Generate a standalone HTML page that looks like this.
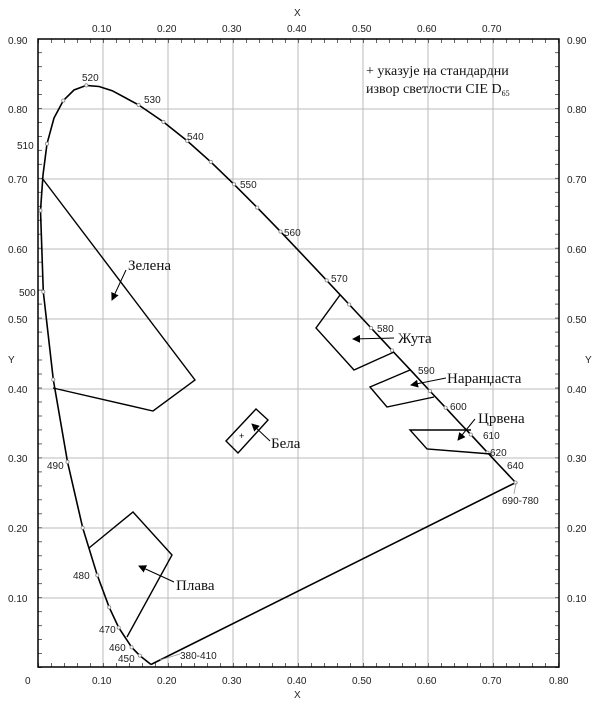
<!DOCTYPE html>
<html><head><meta charset="utf-8"><style>
html,body{margin:0;padding:0;background:#fff;}
svg{display:block;}
.n{font-family:"Liberation Sans",sans-serif;font-size:10px;fill:#222;}
.s{font-family:"Liberation Serif",serif;font-size:15px;fill:#111;}
</style></head><body>
<svg width="600" height="702" viewBox="0 0 600 702" xmlns="http://www.w3.org/2000/svg">
<defs><marker id="a" markerWidth="8" markerHeight="8" refX="7" refY="4" orient="auto" markerUnits="userSpaceOnUse"><path d="M0,0 L8,4 L0,8 z" fill="#000"/></marker></defs>
<g stroke="#bbb" stroke-width="1">
<line x1="103" y1="39" x2="103" y2="667"/><line x1="168" y1="39" x2="168" y2="667"/><line x1="233" y1="39" x2="233" y2="667"/><line x1="298" y1="39" x2="298" y2="667"/><line x1="363" y1="39" x2="363" y2="667"/><line x1="428" y1="39" x2="428" y2="667"/><line x1="493" y1="39" x2="493" y2="667"/>
<line x1="38" y1="598" x2="559" y2="598"/><line x1="38" y1="528" x2="559" y2="528"/><line x1="38" y1="458" x2="559" y2="458"/><line x1="38" y1="389" x2="559" y2="389"/><line x1="38" y1="319" x2="559" y2="319"/><line x1="38" y1="249" x2="559" y2="249"/><line x1="38" y1="179" x2="559" y2="179"/><line x1="38" y1="109" x2="559" y2="109"/>
</g>
<g stroke="#666" stroke-width="4" fill="none">
<line x1="38" y1="41" x2="559" y2="41" stroke-dasharray="1 12"/>
<line x1="38" y1="665" x2="559" y2="665" stroke-dasharray="1 12"/>
<line x1="40" y1="668" x2="40" y2="39" stroke-dasharray="1 12.975"/>
<line x1="557" y1="668" x2="557" y2="39" stroke-dasharray="1 12.975"/>
</g>
<rect x="38" y="39" width="521" height="628" fill="none" stroke="#000" stroke-width="1.5"/>
<path fill="none" stroke="#000" stroke-width="1.6" d="M151,664.5 L139.8,655.6 L131.6,647.2 L118.7,627.6 L109.2,607.3 L97.3,575.3 L82.7,527.8 L67.5,461.9 L53.3,379.6 L43.3,291.8 L40.5,210.5 L43,175 L47,143.8 L54,118 L63.3,100.6 L74,90 L86.3,85.4 L99,86.5 L112.2,90.7 L138.6,104.9 L163.4,121.9 L187.2,140.9 L210.8,161.9 L234,184.3 L257.2,207.6 L280.5,231.6 L303.7,256 L326.7,280.4 L349.2,304.5 L371.1,328 L392.1,350.5 L411.9,371.6 L429.9,391 L445.6,407.7 L459.3,422.5 L470.8,434.6 L487.5,452.6 L498.1,464 L505.4,471.7 L509.9,476.5 L515.6,482.6 L151,664.5"/>
<g fill="#fff" stroke="#888" stroke-width="0.8">
<circle cx="139.8" cy="655.6" r="1.6"/><circle cx="131.6" cy="647.2" r="1.6"/><circle cx="118.7" cy="627.6" r="1.6"/><circle cx="109.2" cy="607.3" r="1.6"/><circle cx="97.3" cy="575.3" r="1.6"/><circle cx="82.7" cy="527.8" r="1.6"/><circle cx="67.5" cy="461.9" r="1.6"/><circle cx="53.3" cy="379.6" r="1.6"/><circle cx="43.3" cy="291.8" r="1.6"/><circle cx="40.5" cy="210.5" r="1.6"/><circle cx="47" cy="143.8" r="1.6"/><circle cx="63.3" cy="100.6" r="1.6"/><circle cx="86.3" cy="85.4" r="1.6"/><circle cx="138.6" cy="104.9" r="1.6"/><circle cx="163.4" cy="121.9" r="1.6"/><circle cx="187.2" cy="140.9" r="1.6"/><circle cx="210.8" cy="161.9" r="1.6"/><circle cx="234" cy="184.3" r="1.6"/><circle cx="257.2" cy="207.6" r="1.6"/><circle cx="280.5" cy="231.6" r="1.6"/><circle cx="326.7" cy="280.4" r="1.6"/><circle cx="349.2" cy="304.5" r="1.6"/><circle cx="371.1" cy="328" r="1.6"/><circle cx="392.1" cy="350.5" r="1.6"/><circle cx="429.9" cy="391" r="1.6"/><circle cx="445.6" cy="407.7" r="1.6"/><circle cx="470.8" cy="434.6" r="1.6"/><circle cx="487.5" cy="452.6" r="1.6"/><circle cx="515.6" cy="482.6" r="1.6"/>
</g>
<g fill="none" stroke="#000" stroke-width="1.4">
<polyline points="42,178 195,380 153,411 53,388"/>
<polyline points="89,548 133,512 172,555 127,637"/>
<polyline points="394,352 354,370 316,328 340,295"/>
<polyline points="434,397 387,407 370,387 410,370"/>
<polyline points="471,430 410,430 427,449 491,454"/>
<polygon points="226,441 256,409 268,420 238,453"/>
</g>
<g stroke="#000" stroke-width="1" marker-end="url(#a)">
<line x1="126" y1="270" x2="112" y2="300"/>
<line x1="174" y1="582" x2="139" y2="566"/>
<line x1="394" y1="338" x2="353" y2="339"/>
<line x1="446" y1="378" x2="411" y2="385"/>
<line x1="475" y1="419" x2="458" y2="440"/>
<line x1="270" y1="441" x2="252" y2="424"/>
</g>
<line x1="160" y1="660" x2="180" y2="654" stroke="#999" stroke-width="0.8"/>
<line x1="516" y1="483" x2="514" y2="494" stroke="#999" stroke-width="0.8"/>
<text x="239" y="439" font-family="Liberation Sans" font-size="9">+</text>
<g class="s">
<text x="128" y="270">Зелена</text>
<text x="176" y="590">Плава</text>
<text x="398" y="343">Жута</text>
<text x="447" y="383">Наранџаста</text>
<text x="478" y="423">Црвена</text>
<text x="271" y="448">Бела</text>
<text x="366" y="75" font-size="14">+ указује на стандардни</text>
<text x="366" y="93" font-size="14">извор светлости  CIE D<tspan font-size="8" dy="3">65</tspan></text>
</g>
<g class="n">
<text x="82" y="81">520</text><text x="144" y="103">530</text><text x="187" y="140">540</text><text x="240" y="188">550</text><text x="284" y="236">560</text><text x="331" y="282">570</text><text x="377" y="332">580</text><text x="418" y="374">590</text><text x="450" y="410">600</text><text x="483" y="439">610</text><text x="490" y="456">620</text><text x="507" y="469">640</text><text x="502" y="504">690-780</text>
<text x="17" y="149">510</text><text x="19" y="296">500</text><text x="47" y="469">490</text><text x="73" y="579">480</text><text x="99" y="633">470</text><text x="109" y="651">460</text><text x="118" y="662">450</text><text x="180" y="659">380-410</text>
<text x="8" y="44">0.90</text><text x="8" y="113">0.80</text><text x="8" y="183">0.70</text><text x="8" y="253">0.60</text><text x="8" y="323">0.50</text><text x="8" y="393">0.40</text><text x="8" y="462">0.30</text><text x="8" y="532">0.20</text><text x="8" y="602">0.10</text>
<text x="567" y="44">0.90</text><text x="567" y="113">0.80</text><text x="567" y="183">0.70</text><text x="567" y="253">0.60</text><text x="567" y="323">0.50</text><text x="567" y="393">0.40</text><text x="567" y="462">0.30</text><text x="567" y="532">0.20</text><text x="567" y="602">0.10</text>
<text x="92" y="32">0.10</text><text x="157" y="32">0.20</text><text x="222" y="32">0.30</text><text x="287" y="32">0.40</text><text x="352" y="32">0.50</text><text x="417" y="32">0.60</text><text x="482" y="32">0.70</text>
<text x="25" y="684">0</text><text x="92" y="684">0.10</text><text x="157" y="684">0.20</text><text x="222" y="684">0.30</text><text x="287" y="684">0.40</text><text x="352" y="684">0.50</text><text x="417" y="684">0.60</text><text x="482" y="684">0.70</text><text x="549" y="684">0.80</text>
<text x="294" y="16">X</text><text x="294" y="698">X</text><text x="8" y="363">Y</text><text x="585" y="363">Y</text>
</g>
</svg>
</body></html>
